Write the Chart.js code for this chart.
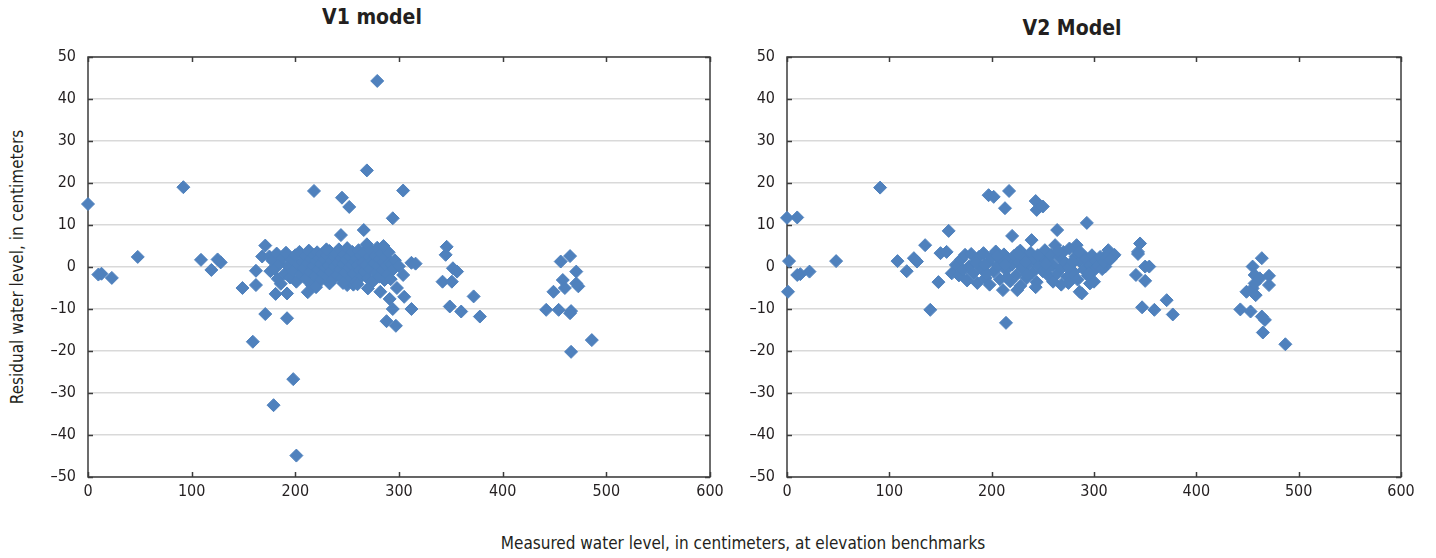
<!DOCTYPE html>
<html>
<head>
<meta charset="utf-8">
<script src="https://cdn.jsdelivr.net/npm/chart.js@4"></script>
<style>
  body { margin: 0; background: #fff; width: 1436px; height: 558px; position: relative; overflow: hidden;
         font-family: 'Liberation Sans Narrow', 'DejaVu Sans Condensed', 'Roboto', sans-serif; color: #231f20; }
  canvas { position: absolute; }
  .lbl { position: absolute; white-space: nowrap; }
  .ttl { font-weight: bold; font-size: 21px; transform: translate(-50%, -50%); }
  #yTitle { font-size: 17px; left: 17px; top: 267px; transform: translate(-50%, -50%) rotate(-90deg); }
  #xTitle { font-size: 17px; left: 743px; top: 543px; transform: translate(-50%, -50%); }
</style>
</head>
<body>
<div class="lbl ttl" style="left:372px; top:17px;">V1 model</div>
<div class="lbl ttl" style="left:1072px; top:28px;">V2 Model</div>
<div class="lbl" id="yTitle">Residual water level, in centimeters</div>
<div class="lbl" id="xTitle">Measured water level, in centimeters, at elevation benchmarks</div>
<canvas id="chartV1" style="left:0px; top:0px;" width="729" height="510"></canvas>
<canvas id="chartV2" style="left:699px; top:0px;" width="721" height="510"></canvas>
<script>
// ── data (measured cm, residual cm) ──
const v1Measured = [
  0, 10, 13, 23, 48, 92, 109, 119, 125, 128, 149, 159, 162, 162, 168, 171, 171, 176, 179, 181,
  192, 192, 198, 201, 212, 218, 233, 244, 245, 252, 250, 256, 266, 269, 270, 279, 282, 291, 288, 294,
  294, 297, 304, 304, 305, 312, 312, 316, 342, 345, 346, 349, 351, 352, 356, 360, 372, 378, 442, 449,
  454, 456, 458, 460, 465, 466, 465, 466, 471, 471, 473, 486,
  175, 178, 180, 182, 183, 185, 186, 188, 190, 191, 193, 195, 196, 198, 200, 201, 203, 204, 205, 207,
  208, 209, 210, 212, 213, 214, 215, 216, 217, 218, 219, 220, 221, 222, 223, 224, 225, 226, 227, 228,
  229, 230, 231, 232, 233, 234, 235, 236, 237, 238, 239, 240, 241, 242, 243, 244, 245, 246, 247, 248,
  249, 250, 251, 252, 253, 254, 255, 256, 257, 258, 259, 260, 261, 262, 263, 264, 265, 266, 267, 268,
  269, 270, 271, 272, 273, 274, 275, 276, 277, 278, 279, 280, 281, 282, 283, 284, 285, 286, 287, 288,
  289, 290, 291, 292, 293, 295, 296, 298, 300, 230, 260, 285, 220, 246
];
const v1Residual = [
  15, -1.8, -1.6, -2.6, 2.4, 19, 1.7, -0.7, 1.8, 1.1, -5, -17.8, -0.9, -4.3, 2.5, 5.1, -11.2, -1, -32.9, -6.4,
  -6.3, -12.2, -26.7, -44.9, -6, 18.1, -3.9, 7.6, 16.5, 14.3, -4.3, -4.2, 8.8, 23, -5.1, 44.3, -5.9, -7.6, -12.9, -10,
  11.6, -14, 18.2, -1.9, -7.1, -10, 1, 0.8, -3.5, 2.9, 4.8, -9.4, -3.5, -0.3, -1.1, -10.6, -7, -11.8, -10.2, -5.9,
  -10.2, 1.3, -3.1, -5, 2.6, -10.5, -11, -20.2, -1.1, -3.9, -4.6, -17.4,
  2.5, 1.5, -0.5, 3.2, -2.8, 0.8, -4, 2.2, -1.6, 3.4, 0.2, -2.5, 1.8, -0.9, 2.8, -3.5, 0.5, 3.6, -1.8, 1.2,
  -0.3, 2.6, -2.8, 0.9, 3.9, -1.2, 1.9, -4.4, 0.2, 2.9, -2.1, 1.4, 3.5, -0.6, 2.1, -3.3, 0.7, 3.1, -1.5, 1.8,
  -0.2, 2.7, -2.4, 0.4, 3.8, -1, 1.5, -3, 2.4, 0.1, 3.3, -1.9, 1, 4.2, -0.4, 2.2, -2.6, 0.8, 3, -1.3,
  1.7, 4.5, -0.1, 2.5, -2.9, 0.6, 3.6, -1.6, 1.3, -3.6, 2, 0.3, 4, -0.8, 2.8, -2.2, 1.1, 3.4, -1.1, 0.5,
  5.4, -2.7, 2.3, -0.5, 3.9, 1.4, -3.4, 0.9, 2.6, -1.4, 4.6, 0.2, -2.3, 1.9, 3.2, -0.7, 1.2, -3.1, 2.4, 0.4,
  -1.8, 3.5, 1, -2.9, 0.6, -0.4, 1.6, -5, 0.2, 4.2, -4.1, 5, -4.8, -3.8
];

const v2Measured = [
  0, 10, 2, 1, 10, 13, 22, 48, 91, 108, 117, 124, 127, 135, 140, 148, 150, 156, 158, 161,
  197, 202, 213, 217, 214, 220, 239, 243, 244, 250, 264, 293, 283, 286, 288, 296, 311, 314, 314, 319,
  320, 343, 345, 343, 341, 350, 350, 354, 347, 359, 371, 377, 443, 449, 453, 455, 455, 457, 457, 458,
  462, 464, 464, 467, 465, 471, 471, 487,
  165, 168, 170, 172, 174, 176, 178, 180, 182, 184, 186, 188, 190, 192, 194, 196, 198, 200, 202, 204,
  206, 208, 210, 211, 212, 214, 216, 218, 220, 222, 224, 225, 226, 228, 230, 232, 234, 236, 238, 240,
  242, 244, 246, 248, 250, 252, 254, 256, 258, 260, 262, 264, 266, 268, 270, 272, 274, 276, 278, 280,
  282, 284, 286, 288, 290, 292, 294, 296, 298, 300, 302, 304, 306, 308, 310, 312, 316, 185, 195, 205,
  215, 225, 235, 245, 255, 265, 275, 285, 295, 228, 243, 260, 275, 300, 253, 233, 213, 193, 279, 268
];
const v2Residual = [
  11.7, 11.8, 1.4, -5.9, -1.9, -1.7, -1.1, 1.4, 18.9, 1.4, -1, 2.1, 1.3, 5.2, -10.2, -3.6, 3.3, 3.6, 8.6, -1.5,
  17.1, 16.7, 14, 18.1, -13.3, 7.4, 6.4, 15.7, 13.6, 14.4, 8.8, 10.5, 5.2, -5.9, -6.3, -3.9, 0.1, 4, 3.3, 2.6,
  2.9, 3.6, 5.6, 3.1, -1.9, 0.1, -3.3, 0.1, -9.6, -10.2, -7.9, -11.3, -10.1, -5.9, -10.6, 0.1, -5.1, -1.9, -3.9, -6.7,
  -2.7, 2.1, -11.8, -12.6, -15.6, -2.1, -4.3, -18.4,
  0.5, -2, 1.8, -0.8, 2.9, -3.2, 0.2, 3.1, -1.5, 1.2, -3.8, 2.5, -0.4, 3.3, -2.6, 0.9, -4.2, 2.2, -1.1, 3.7,
  0.3, -2.9, 1.6, -5.5, 3, -0.7, 1.9, -3.4, 0.6, 2.7, -1.9, -5.5, 1.1, 3.9, -0.2, 2.1, -2.7, 0.8, 3.4, -1.3,
  1.7, -3.6, 0.1, 2.6, -1, 4, 1.3, -2.2, 2.9, 0.5, 5.2, -1.6, 2.3, -0.3, 3.6, 1, -2.4, 4.4, 0.7, -1.2,
  2.5, -3, 1.4, 3.2, -0.6, 1.9, -2, 0.4, 2.8, -0.8, 1.5, 0.2, 2.4, -0.5, 1.2, 2.2, 1.8, 1, -1.5, 2.6,
  -2.5, 3.3, -1.8, 2.8, -0.5, 3.8, -0.2, 3.6, -1.5, -4.5, -4.8, -3.5, -3.8, -3.5, 0.7, 1.2, 0.4, 0.6, 1.3, -4.2
];

const xTicks = [0, 100, 200, 300, 400, 500, 600];
const yTicks = [50, 40, 30, 20, 10, 0, -10, -20, -30, -40, -50];

const FONT = "'Liberation Sans Narrow', 'DejaVu Sans Condensed', 'Roboto', sans-serif";
const MARKER = '#4f81bd';

// box round the plot with inward tick marks on every side
const framePlugin = {
  id: 'frame',
  beforeDatasetsDraw(chart) {
    const { ctx, chartArea: a, scales: { x, y } } = chart;
    ctx.save();
    ctx.strokeStyle = '#3c3c3c';
    ctx.lineWidth = 1.5;
    ctx.strokeRect(a.left, a.top, a.right - a.left, a.bottom - a.top);
    ctx.beginPath();
    x.ticks.forEach(t => {
      const px = Math.round(x.getPixelForValue(t.value)) + 0.5;
      ctx.moveTo(px, a.bottom); ctx.lineTo(px, a.bottom - 5);
      ctx.moveTo(px, a.top);    ctx.lineTo(px, a.top + 5);
    });
    y.ticks.forEach(t => {
      const py = Math.round(y.getPixelForValue(t.value)) + 0.5;
      ctx.moveTo(a.left, py);  ctx.lineTo(a.left + 5, py);
      ctx.moveTo(a.right, py); ctx.lineTo(a.right - 5, py);
    });
    ctx.stroke();
    ctx.restore();
  }
};

function makeScatter(canvasId, xs, ys) {
  const points = xs.map((v, i) => ({ x: v, y: ys[i] }));
  return new Chart(document.getElementById(canvasId), {
    type: 'scatter',
    data: {
      datasets: [{
        data: points,
        pointStyle: 'rectRot',
        pointRadius: 6.5,
        pointHoverRadius: 6.5,
        backgroundColor: MARKER,
        borderColor: MARKER,
        borderWidth: 1,
        clip: false
      }]
    },
    options: {
      responsive: false,
      animation: false,
      events: [],
      layout: { padding: { top: 57, right: 19, left: 0, bottom: 0 } },
      plugins: { legend: { display: false }, tooltip: { enabled: false } },
      scales: {
        x: {
          type: 'linear', min: 0, max: 600,
          afterBuildTicks: s => { s.ticks = xTicks.map(v => ({ value: v })); },
          afterFit: s => { s.height = 33; },
          grid: { display: false, drawTicks: false },
          border: { display: false },
          ticks: { color: '#231f20', font: { family: FONT, size: 16 }, padding: 5, maxRotation: 0 }
        },
        y: {
          type: 'linear', min: -50, max: 50,
          afterBuildTicks: s => { s.ticks = yTicks.map(v => ({ value: v })); },
          afterFit: s => { s.width = 88; },
          grid: { color: '#d9d9d9', lineWidth: 1.5, drawTicks: false },
          border: { display: false },
          ticks: {
            color: '#231f20', font: { family: FONT, size: 16 }, padding: 12,
            callback: v => (v < 0 ? '\u2013' + Math.abs(v) : String(v))
          }
        }
      }
    },
    plugins: [framePlugin]
  });
}

makeScatter('chartV1', v1Measured, v1Residual);
makeScatter('chartV2', v2Measured, v2Residual);
</script>
</body>
</html>
